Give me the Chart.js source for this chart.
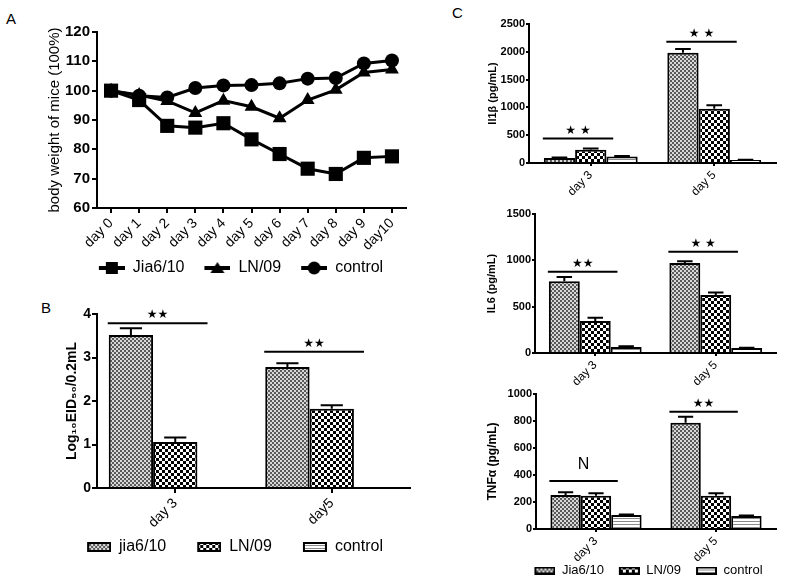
<!DOCTYPE html>
<html lang="en">
<head>
  <meta charset="UTF-8">
  <title>Body weight, virus titre and cytokines</title>
  <script src="https://cdn.jsdelivr.net/npm/chart.js"></script>
  <style>
    body { margin: 0; background: #fff; overflow: hidden; font-family: "Liberation Sans", Arial, sans-serif; }
    .wrap { position: relative; width: 785px; height: 581px; overflow: hidden; }
    canvas { position: absolute; }
    .tag { position: absolute; font-size: 15px; color: #000; }
  </style>
</head>
<body>
<div class="wrap">
  <div class="tag" style="left:6px;top:10px">A</div>
  <div class="tag" style="left:41px;top:299px">B</div>
  <div class="tag" style="left:452px;top:4px">C</div>
  <canvas id="chartA" width="420" height="290" style="left:0;top:0"></canvas>
  <canvas id="chartB" width="420" height="291" style="left:0;top:290px"></canvas>
  <canvas id="chartC1" width="335" height="200" style="left:450px;top:0"></canvas>
  <canvas id="chartC2" width="335" height="197" style="left:450px;top:190px"></canvas>
  <canvas id="chartC3" width="335" height="210" style="left:450px;top:380px"></canvas>
</div>

<script>
  // A: body weight (% of day 0)
  const days = ['day 0', 'day 1', 'day 2', 'day 3', 'day 4', 'day 5', 'day 6', 'day 7', 'day 8', 'day 9', 'day10'];
  const jiaWeight = [100, 96.8, 88, 87.4, 88.9, 83.4, 78.4, 73.4, 71.6, 77.1, 77.6];
  const lnWeight = [100, 98.5, 96.5, 92.4, 96.6, 94.5, 90.6, 96.8, 100.3, 106.2, 107.2];
  const ctrlWeight = [100, 98.3, 97.7, 100.9, 101.8, 101.9, 102.5, 104.1, 104.3, 109.3, 110.3];

  // B: lung virus titre
  const titreDays = ['day 3', 'day5'];
  const jiaTitre = [3.52, 2.78];
  const jiaTitreErr = [0.15, 0.09];
  const lnTitre = [1.06, 1.82];
  const lnTitreErr = [0.10, 0.08];
  const ctrlTitre = [0, 0];
  const ctrlTitreErr = [0, 0];
  const titreSig = [3.79, 3.13];
  const titreSigText = ['★★', '★★'];

  // C: cytokines
  const cytoDays = ['day 3', 'day 5'];
  const jiaIl1b = [90, 1985];
  const jiaIl1bErr = [10, 65];
  const lnIl1b = [240, 975];
  const lnIl1bErr = [20, 65];
  const ctrlIl1b = [115, 55];
  const ctrlIl1bErr = [12, 5];
  const il1bSig = [440, 2180];
  const il1bSigText = ['★ ★', '★ ★'];

  const jiaIl6 = [775, 970];
  const jiaIl6Err = [45, 20];
  const lnIl6 = [345, 625];
  const lnIl6Err = [35, 28];
  const ctrlIl6 = [65, 55];
  const ctrlIl6Err = [8, 3];
  const il6Sig = [876, 1092];
  const il6SigText = ['★★', '★ ★'];

  const jiaTnf = [252, 787];
  const jiaTnfErr = [20, 45];
  const lnTnf = [247, 247];
  const lnTnfErr = [17, 17];
  const ctrlTnf = [104, 96];
  const ctrlTnfErr = [4, 4];
  const tnfSig = [356, 869];
  const tnfSigText = ['N', '★★'];

  const FONT = '"Liberation Sans", Arial, sans-serif';
  Chart.defaults.font.family = FONT;
  Chart.defaults.color = '#000';

  function tile(w, h, draw) {
    const c = document.createElement('canvas');
    c.width = w;
    c.height = h;
    const g = c.getContext('2d');
    g.fillStyle = '#fff';
    g.fillRect(0, 0, w, h);
    draw(g);
    return g.createPattern(c, 'repeat');
  }
  const finePat = tile(4, 4, g => {
    g.fillStyle = '#d8d8d8';
    g.fillRect(0, 0, 4, 4);
    g.fillStyle = '#5a5a5a';
    g.fillRect(0, 0, 2, 2);
    g.fillRect(2, 2, 2, 2);
  });
  const checkPat = tile(6, 6, g => {
    g.fillStyle = '#000';
    g.fillRect(0, 0, 3, 3);
    g.fillRect(3, 3, 3, 3);
  });
  const stripePat = tile(3, 3, g => {
    g.fillStyle = '#8a8a8a';
    g.fillRect(0, 0, 3, 1);
  });
  const fills = [finePat, checkPat, stripePat];

  // legend icons: blank lead-in on the left sets the gap before each item
  function lineIcon(kind, lead) {
    const c = document.createElement('canvas');
    c.width = lead + 26;
    c.height = 16;
    const g = c.getContext('2d');
    g.translate(lead, 0);
    g.fillStyle = '#000';
    g.fillRect(0, 6, 26, 4);
    g.beginPath();
    if (kind === 'rect') g.rect(7, 2, 12, 12);
    if (kind === 'triangle') { g.moveTo(13, 2); g.lineTo(20, 13); g.lineTo(6, 13); g.closePath(); }
    if (kind === 'circle') g.arc(13, 8, 6.5, 0, Math.PI * 2);
    g.fill();
    return c;
  }
  function boxIcon(pat, lead, w, h) {
    const c = document.createElement('canvas');
    c.width = lead + w;
    c.height = h;
    const g = c.getContext('2d');
    g.fillStyle = pat;
    g.fillRect(lead, 0, w, h);
    g.strokeStyle = '#000';
    g.lineWidth = 2;
    g.strokeRect(lead + 1, 1, w - 2, h - 2);
    return c;
  }
  const lineIcons = [lineIcon('rect', 12), lineIcon('triangle', 12), lineIcon('circle', 12)];

  function axis(extra, tickLength) {
    return Object.assign({
      border: { color: '#000', width: 2 },
      grid: { drawOnChartArea: false, drawTicks: true, tickLength: tickLength || 5, color: '#000', lineWidth: 2, offset: false }
    }, extra);
  }

  // error bars and significance lines
  function marks(sigVals, sigText) {
    return {
      id: 'marks',
      afterDatasetsDraw(chart) {
        const ctx = chart.ctx;
        const y = chart.scales.y;
        ctx.save();
        ctx.strokeStyle = '#000';
        ctx.lineWidth = 2;
        chart.data.datasets.forEach((ds, di) => {
          chart.getDatasetMeta(di).data.forEach((bar, i) => {
            const e = ds.errors[i];
            if (!e) return;
            const top = y.getPixelForValue(ds.data[i] + e);
            const hw = bar.width * 0.25;
            ctx.beginPath();
            ctx.moveTo(bar.x, bar.y);
            ctx.lineTo(bar.x, top);
            ctx.moveTo(bar.x - hw, top);
            ctx.lineTo(bar.x + hw, top);
            ctx.stroke();
          });
        });
        const first = chart.getDatasetMeta(0).data;
        ctx.fillStyle = '#000';
        ctx.textAlign = 'center';
        ctx.textBaseline = 'alphabetic';
        sigVals.forEach((v, i) => {
          const bar = first[i];
          const x0 = bar.x - bar.width / 2 - 1;
          const x1 = x0 + bar.width * 2.25;
          const py = y.getPixelForValue(v);
          ctx.beginPath();
          ctx.moveTo(x0, py);
          ctx.lineTo(x1, py);
          ctx.stroke();
          if (sigText[i] === 'N') {
            ctx.font = '16px ' + FONT;
            ctx.fillText(sigText[i], (x0 + x1) / 2, py - 12);
          } else {
            ctx.font = '12px "DejaVu Sans"';
            ctx.fillText(sigText[i], (x0 + x1) / 2, py - 5);
          }
        });
        ctx.restore();
      }
    };
  }

  new Chart(document.getElementById('chartA'), {
    type: 'line',
    data: {
      labels: days,
      datasets: [
        { label: 'Jia6/10', data: jiaWeight, pointStyle: 'rect', pointRadius: 10 },
        { label: 'LN/09', data: lnWeight, pointStyle: 'triangle', pointRadius: 8 },
        { label: 'control', data: ctrlWeight, pointStyle: 'circle', pointRadius: 7 }
      ].map(d => Object.assign(d, {
        borderColor: '#000', backgroundColor: '#000', pointBackgroundColor: '#000',
        borderWidth: 3, pointBorderWidth: 0, tension: 0
      }))
    },
    options: {
      responsive: false,
      animation: false,
      layout: { padding: { left: 64, top: 32, right: 14, bottom: 4 } },
      scales: {
        x: axis({
          offset: true,
          ticks: { autoSkip: false, minRotation: 45, maxRotation: 45, padding: 2, font: { size: 14 } },
          afterFit: s => { s.height = 44; }
        }),
        y: axis({
          min: 60, max: 120,
          ticks: { stepSize: 10, padding: 2, font: { size: 15, weight: 'bold' } },
          title: { display: true, text: 'body weight of mice (100%)', padding: { top: -18, bottom: 0 }, font: { size: 15 } },
          afterFit: s => { s.width = 33; }
        })
      },
      plugins: {
        tooltip: { enabled: false },
        legend: {
          position: 'bottom',
          labels: {
            usePointStyle: true,
            pointStyleWidth: 38,
            padding: 8,
            font: { size: 16 },
            generateLabels: chart => Chart.defaults.plugins.legend.labels.generateLabels(chart)
              .map((l, i) => Object.assign(l, { pointStyle: lineIcons[i] }))
          }
        }
      }
    }
  });

  function barChart(id, o) {
    const icons = o.legend ? fills.map(p => boxIcon(p, o.legend.lead, o.legend.boxWidth, o.legend.boxHeight)) : [];
    return new Chart(document.getElementById(id), {
      type: 'bar',
      data: {
        labels: o.labels,
        datasets: o.names.map((name, i) => ({
          label: name,
          data: o.values[i],
          errors: o.errors[i],
          backgroundColor: fills[i],
          borderColor: '#000',
          borderWidth: 2,
          barPercentage: 1,
          categoryPercentage: o.cat
        }))
      },
      options: {
        responsive: false,
        animation: false,
        layout: { padding: o.pad },
        scales: {
          x: axis({
            ticks: { autoSkip: false, minRotation: 45, maxRotation: 45, padding: 2, font: { size: o.xSize } },
            afterFit: s => { s.height = o.xHeight; }
          }, o.tick),
          y: axis({
            min: 0, max: o.max,
            ticks: { stepSize: o.step, padding: 1, font: { size: o.ySize, weight: 'bold' }, callback: v => String(v) },
            title: { display: true, text: o.title, padding: { top: o.titleGap || 0, bottom: 0 }, font: { size: o.titleSize, weight: 'bold' } },
            afterFit: s => { s.width = o.yWidth; }
          }, o.tick)
        },
        plugins: {
          tooltip: { enabled: false },
          legend: o.legend ? {
            position: 'bottom',
            labels: {
              usePointStyle: true,
              pointStyleWidth: o.legend.lead + o.legend.boxWidth,
              padding: o.legend.padding,
              font: { size: o.legend.size },
              generateLabels: chart => Chart.defaults.plugins.legend.labels.generateLabels(chart)
                .map((l, i) => Object.assign(l, { pointStyle: icons[i] }))
            }
          } : { display: false }
        }
      },
      plugins: [marks(o.sig, o.sigText)]
    });
  }

  barChart('chartB', {
    labels: titreDays,
    names: ['jia6/10', 'LN/09', 'control'],
    values: [jiaTitre, lnTitre, ctrlTitre],
    errors: [jiaTitreErr, lnTitreErr, ctrlTitreErr],
    sig: titreSig, sigText: titreSigText,
    max: 4, step: 1,
    title: 'Log₁₀EID₅₀/0.2mL', titleSize: 14, titleGap: 28,
    cat: 0.85, tick: 5,
    pad: { left: 36, top: 24, right: 10, bottom: 16 },
    yWidth: 61, xHeight: 44, xSize: 14, ySize: 14,
    legend: { lead: 24, boxWidth: 24, boxHeight: 10, padding: 7, size: 16 }
  });

  barChart('chartC1', {
    labels: cytoDays,
    names: ['Jia6/10', 'LN/09', 'control'],
    values: [jiaIl1b, lnIl1b, ctrlIl1b],
    errors: [jiaIl1bErr, lnIl1bErr, ctrlIl1bErr],
    sig: il1bSig, sigText: il1bSigText,
    max: 2500, step: 500,
    title: 'Il1β (pg/mL)', titleSize: 11,
    cat: 0.76, tick: 3,
    pad: { left: 36, top: 24, right: 9, bottom: 0 },
    yWidth: 43, xHeight: 37, xSize: 12, ySize: 11
  });

  barChart('chartC2', {
    labels: cytoDays,
    names: ['Jia6/10', 'LN/09', 'control'],
    values: [jiaIl6, lnIl6, ctrlIl6],
    errors: [jiaIl6Err, lnIl6Err, ctrlIl6Err],
    sig: il6Sig, sigText: il6SigText,
    max: 1500, step: 500,
    title: 'IL6 (pg/mL)', titleSize: 11,
    cat: 0.77, tick: 3,
    pad: { left: 35, top: 24, right: 9, bottom: 0 },
    yWidth: 50, xHeight: 34, xSize: 12, ySize: 11
  });

  barChart('chartC3', {
    labels: cytoDays,
    names: ['Jia6/10', 'LN/09', 'control'],
    values: [jiaTnf, lnTnf, ctrlTnf],
    errors: [jiaTnfErr, lnTnfErr, ctrlTnfErr],
    sig: tnfSig, sigText: tnfSigText,
    max: 1000, step: 200,
    title: 'TNFα (pg/mL)', titleSize: 12, titleGap: -22,
    cat: 0.76, tick: 3,
    pad: { left: 57, top: 14, right: 9, bottom: 3 },
    yWidth: 29, xHeight: 34, xSize: 12, ySize: 11,
    legend: { lead: 14, boxWidth: 21, boxHeight: 8, padding: 1, size: 13 }
  });
</script>
</body>
</html>
